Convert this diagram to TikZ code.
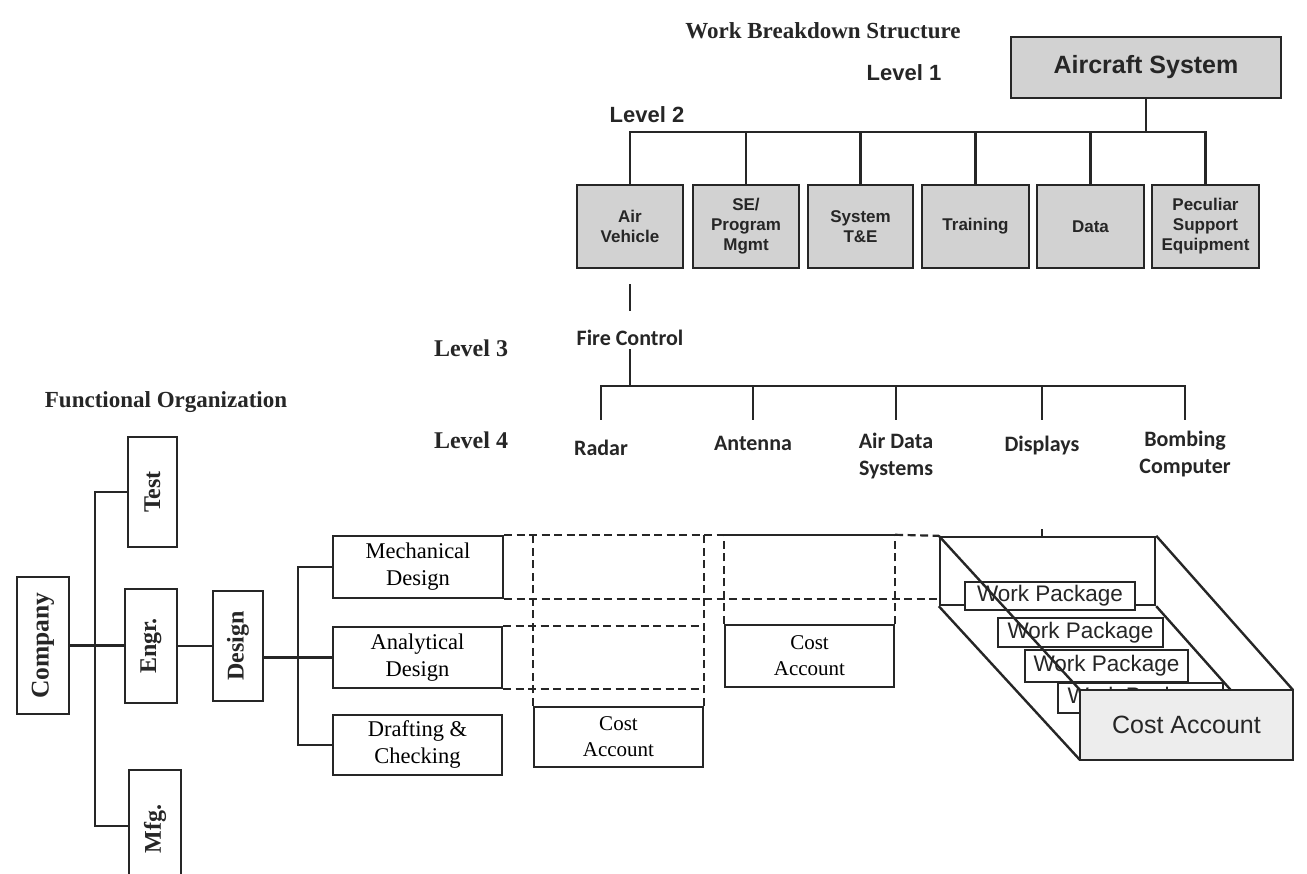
\documentclass[tikz,border=0pt]{standalone}
\usepackage{fontspec}
\setmainfont{Liberation Serif}
\newfontfamily\arialfont{Liberation Sans}
\newfontfamily\calfont{Carlito}
\usetikzlibrary{calc}

\definecolor{boxgray}{HTML}{D2D2D2}
\definecolor{lightfill}{HTML}{EDEDED}
\definecolor{ink}{HTML}{262626}

\tikzset{
  conn/.style={draw=ink, line width=2.2pt},
  dashline/.style={draw=ink, line width=2.2pt, dash pattern=on 8pt off 4.5pt},
  wbsbox/.style={draw=ink, fill=boxgray, line width=2.4pt, inner sep=1pt, align=center,
    text=ink, font=\arialfont\bfseries\fontsize{17}{20}\selectfont},
  orgbox/.style={draw=ink, fill=white, line width=2.4pt, inner sep=1pt, align=center},
  serifhead/.style={text=ink, font=\bfseries\fontsize{23}{26}\selectfont},
  levelserif/.style={text=ink, font=\bfseries\fontsize{24}{26}\selectfont},
  levelsans/.style={text=ink, font=\arialfont\bfseries\fontsize{22}{24}\selectfont},
  callabel/.style={text=ink, align=center, font=\calfont\bfseries\fontsize{22}{27}\selectfont},
  vlabel/.style={text=ink, rotate=90, font=\bfseries\fontsize{24}{26}\selectfont},
  funcbox/.style={orgbox, font=\fontsize{22.5}{27}\selectfont},
  costbox/.style={orgbox, font=\fontsize{21}{26}\selectfont},
  wpbox/.style={draw=ink, fill=white, line width=2.4pt, inner sep=0pt, text=ink,
    font=\arialfont\fontsize{22.5}{24}\selectfont},
}

\begin{document}
\begin{tikzpicture}[x=1pt,y=-1pt]
\useasboundingbox (0,0) rectangle (1307,874);
\fill[white] (0,0) rectangle (1307,874);

% ---------------- Work breakdown structure ----------------
\node[serifhead] (wbstitle) at (823,31) {Work Breakdown Structure};
\node[levelsans] (lv1) at (904,73) {Level 1};
\node[levelsans] (lv2) at (647,115) {Level 2};

\node[wbsbox, minimum width=270pt, minimum height=61pt,
      font=\arialfont\bfseries\fontsize{25}{28}\selectfont] (acs) at (1146,67.5) {Aircraft System};

\node[wbsbox, minimum width=106pt, minimum height=83pt] (av)  at (630,226.5)   {Air\\Vehicle};
\node[wbsbox, minimum width=106pt, minimum height=83pt] (se)  at (746,226.5)   {SE/\\Program\\Mgmt};
\node[wbsbox, minimum width=105pt, minimum height=83pt] (ste) at (860.5,226.5) {System\\T\&E};
\node[wbsbox, minimum width=107pt, minimum height=83pt] (trn) at (975.5,226.5) {Training};
\node[wbsbox, minimum width=107pt, minimum height=83pt] (dat) at (1090.5,226.5) {Data};
\node[wbsbox, minimum width=107pt, minimum height=83pt] (pse) at (1205.5,226.5) {Peculiar\\Support\\Equipment};

\coordinate (bus2) at (1146,132);
\draw[conn] (acs.south) -- (bus2);
\draw[conn] (av.north) -- (av.north |- bus2) -- (pse.north |- bus2) -- (pse.north);
\foreach \n in {se,ste,trn,dat} \draw[conn] (\n.north) -- (\n.north |- bus2);

% short stub below the air vehicle
\draw[conn] ([yshift=-15pt]av.south) -- ([yshift=-42pt]av.south);

% levels 3 and 4
\node[levelserif] (lv3) at (471,348) {Level 3};
\node[levelserif] (lv4) at (471,440) {Level 4};
\node[callabel] (fc) at (630,338) {Fire Control};

\node[callabel] (radar) at (601,448) {Radar};
\node[callabel] (ant)   at (753,443) {Antenna};
\node[callabel] (ads)   at (896,456) {Air Data\\Systems};
\node[callabel] (disp)  at (1042,446) {Displays};
\node[callabel] (bomb)  at (1185,454) {Bombing\\Computer};

\coordinate (bus3) at (630,386);
\coordinate (l4end) at (0,420);
\draw[conn] (fc.south) -- (bus3);
\draw[conn] (radar.north |- l4end) -- (radar.north |- bus3) -- (bomb.north |- bus3) -- (bomb.north |- l4end);
\foreach \n in {ant,ads,disp} \draw[conn] (\n.north |- bus3) -- (\n.north |- l4end);

% ---------------- Functional organization ----------------
\node[serifhead] (fotitle) at (166,402) {Functional Organization};

\node[orgbox, minimum width=52pt, minimum height=137pt] (company) at (43,645.5) {};
\node[vlabel, font=\bfseries\fontsize{25.5}{27}\selectfont] at (company) {Company};
\node[orgbox, minimum width=49pt, minimum height=110pt] (test) at (152.5,492) {};
\node[vlabel] at (test) {Test};
\node[orgbox, minimum width=52pt, minimum height=114pt] (engr) at (151,646) {};
\node[vlabel] at (engr) {Engr.};
\node[orgbox, minimum width=52pt, minimum height=112pt] (mfg) at (155,826) {};
\node[vlabel] at (155,829) {Mfg.};
\node[orgbox, minimum width=50pt, minimum height=110pt] (design) at (238,646) {};
\node[vlabel] at (design) {Design};

\coordinate (ftrunk) at (95,0);
\draw[conn] (company.east) -- (company.east -| engr.west);
\draw[conn] (test.west) -- (test.west -| ftrunk) -- (mfg.west -| ftrunk) -- (mfg.west);
\draw[conn] (engr.east) -- (engr.east -| design.west);

\node[funcbox, minimum width=170pt, minimum height=62pt] (mech)  at (418,567)     {Mechanical\\Design};
\node[funcbox, minimum width=169pt, minimum height=61pt] (anl)   at (417.5,657.5) {Analytical\\Design};
\node[funcbox, minimum width=169pt, minimum height=60pt] (draft) at (417.5,745)   {Drafting \&\\Checking};

\coordinate (dtrunk) at (298,0);
\draw[conn] (design.east |- anl.west) -- (anl.west);
\draw[conn] (mech.west) -- (mech.west -| dtrunk) -- (draft.west -| dtrunk) -- (draft.west);

% ---------------- Cost accounts and dashed links ----------------
\node[costbox, minimum width=169pt, minimum height=60pt] (ca1) at (618.5,737) {Cost\\Account};
\node[costbox, minimum width=169pt, minimum height=62pt] (ca2) at (809.5,656) {Cost\\Account};

% back face of the cost account block
\node[draw=ink, line width=2.4pt, minimum width=215pt, minimum height=68pt, inner sep=0pt] (back) at (1047.5,571) {};

\draw[dashline] (mech.north east) -- (ca2.north west |- mech.north);
\draw[conn] (ca2.north west |- mech.north) -- (ca2.north east |- mech.north);
\draw[dashline] (ca2.north east |- mech.north) -- (back.north west);
\draw[dashline] (mech.south east) -- (mech.south east -| back.west);
\draw[dashline] (anl.north east) -- (anl.north east -| ca1.east);
\draw[dashline] (anl.south east) -- (anl.south east -| ca1.east);
\draw[dashline] (ca1.north west) -- (ca1.north west |- mech.north);
\draw[dashline] (ca1.north east) -- (ca1.north east |- mech.north);
\draw[dashline] (ca2.north west) -- (ca2.north west |- mech.north);
\draw[dashline] (ca2.north east) -- (ca2.north east |- mech.north);
\draw[conn] (disp.south |- back.north) -- ++(0,-7);

% stacked work packages
\node[wpbox, minimum width=170pt, minimum height=28pt] (wp1) at (1050,596)     {Work Package};
\node[wpbox, minimum width=165pt, minimum height=29pt] (wp2) at (1080.5,632.5) {Work Package};
\node[wpbox, minimum width=163pt, minimum height=32pt] (wp3) at (1106.5,666)   {Work Package};
\node[wpbox, minimum width=165pt, minimum height=30pt] (wp4) at (1140.5,698)   {Work Package};

% front face and edges of the block
\coordinate (fnw) at (1080,690);
\coordinate (fne) at (1293,690);
\coordinate (fsw) at (1080,760);
\coordinate (fse) at (1293,760);
\draw[conn, line width=2.4pt] (back.north west) -- (fnw);
\draw[conn, line width=2.4pt] (back.south west) -- (fsw);
\draw[conn, line width=2.4pt] (back.north east) -- (fne);
\draw[conn, line width=2.4pt] (back.south east) -- (fse);
\node[draw=ink, fill=lightfill, line width=2.8pt, minimum width=213pt, minimum height=70pt,
      inner sep=0pt, text=ink, font=\arialfont\fontsize{25}{28}\selectfont] (front) at (1186.5,725) {Cost Account};
\end{tikzpicture}
\end{document}
